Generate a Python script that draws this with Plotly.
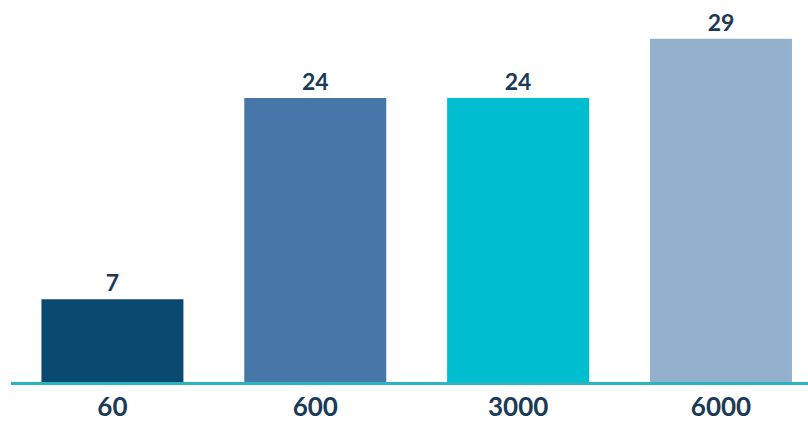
import plotly.graph_objects as go

categories = ["60", "600", "3000", "6000"]
values = [7, 24, 24, 29]
colors = ["#0b4a70", "#4677a8", "#00bdd0", "#93b1cc"]

fig = go.Figure(go.Bar(
    x=categories, y=values,
    marker=dict(color=colors, line=dict(width=0)),
    text=[str(v) for v in values], textposition="outside",
    textfont=dict(family="Lato", size=23, color="#1b3a57", weight="bold"),
    cliponaxis=False, width=0.7,
))
fig.update_layout(
    width=808, height=421,
    margin=dict(l=11, r=0, t=30, b=39),
    paper_bgcolor="white", plot_bgcolor="white",
    showlegend=False,
    xaxis=dict(type="category", range=[-0.5, 3.429], showgrid=False,
               showline=True, linecolor="#2ab4c0", linewidth=3,
               tickfont=dict(family="Lato", size=26, color="#1b3a57", weight="bold"),
               ticks="", ticklabelstandoff=0, automargin=False),
    yaxis=dict(range=[0, 29.75], visible=False, showgrid=False, zeroline=False),
    font=dict(family="Lato"),
)
fig.write_html("out.html", config={"displayModeBar": False},
               post_script="document.body.style.margin='0';document.body.style.overflow='hidden';")
